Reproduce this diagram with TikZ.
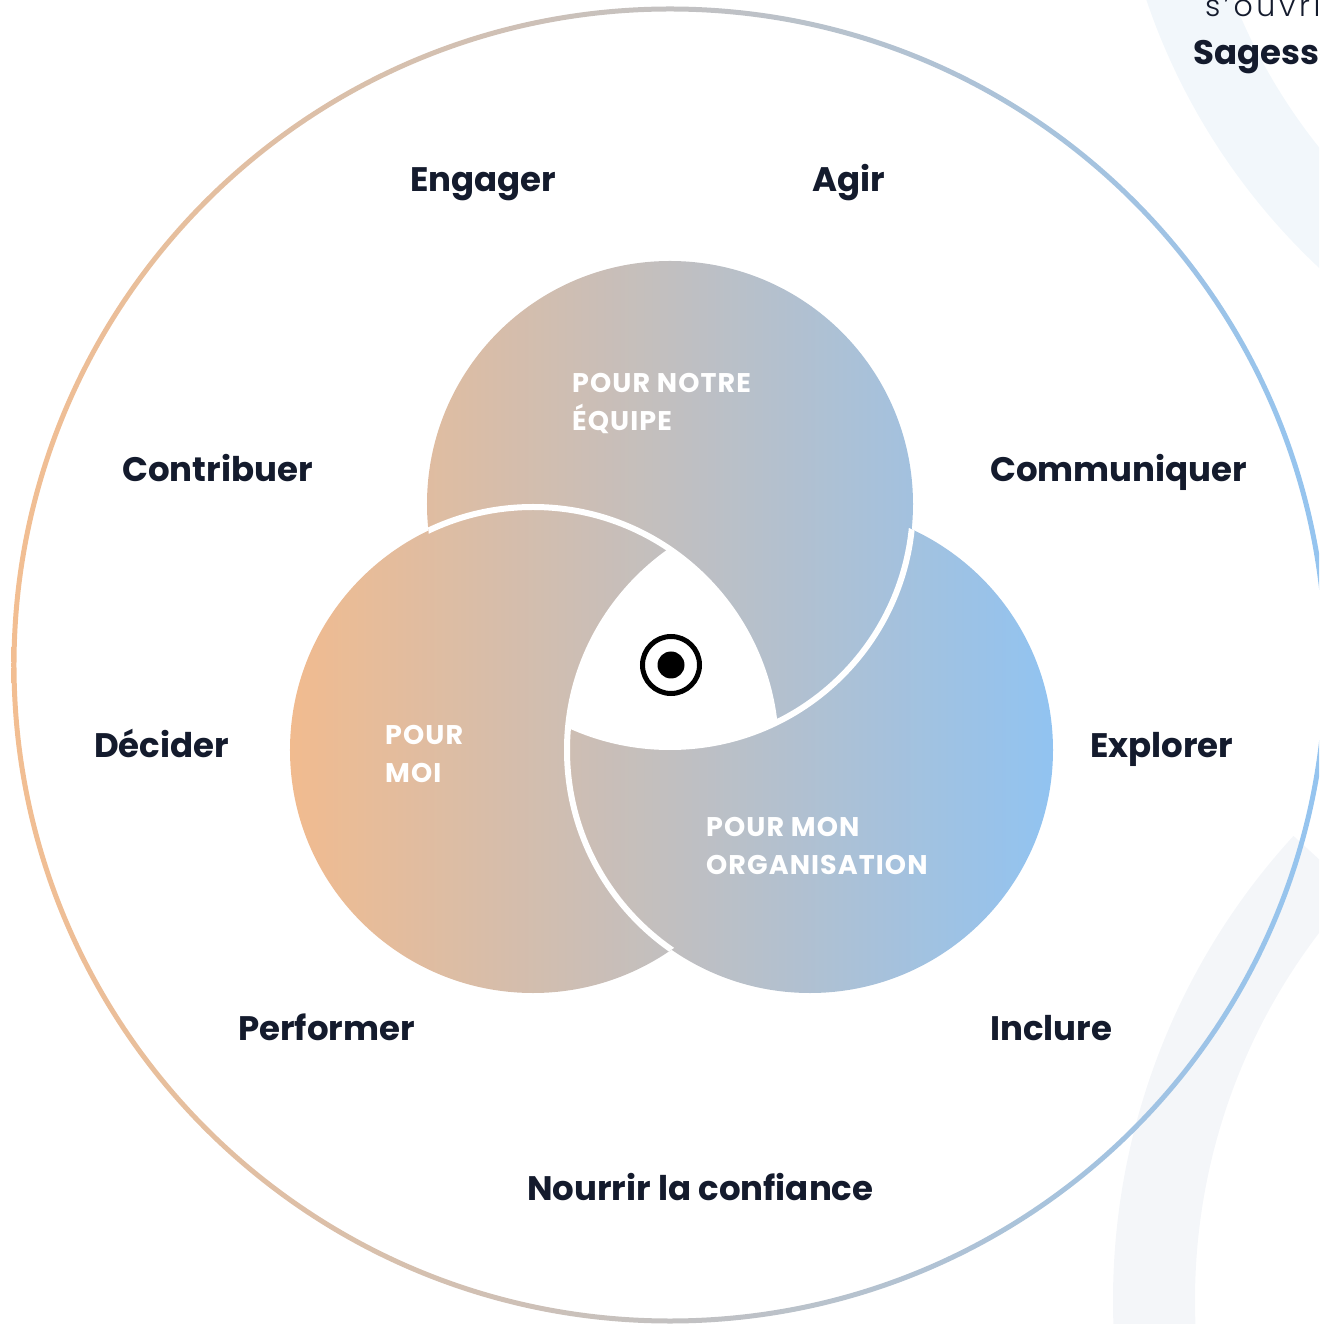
\documentclass[tikz,border=0pt]{standalone}
\usepackage{fontspec}
\setmainfont{Poppins}
\newfontfamily\thinfont[LetterSpace=12]{Poppins Light}
\newfontfamily\capsfont[LetterSpace=4]{Poppins}
\usetikzlibrary{calc}

\definecolor{peach}{RGB}{241,187,143}
\definecolor{sky}{RGB}{145,195,241}
\definecolor{ringpeach}{RGB}{242,190,146}
\definecolor{ringsky}{RGB}{148,196,240}
\definecolor{ink}{RGB}{20,27,45}
\definecolor{haloblue}{RGB}{242,247,251}
\definecolor{halogray}{RGB}{244,246,249}

\begin{document}
\begin{tikzpicture}[x=1pt,y=1pt,
  verb/.style={anchor=base west, inner sep=0pt, text=ink, font=\fontsize{34}{40}\selectfont\bfseries},
  zone/.style={anchor=north west, inner sep=0pt, text=white, align=left, font=\capsfont\fontsize{27}{38}\selectfont\bfseries},
  gap/.style={draw=white, line width=6pt}]
\useasboundingbox (-670,-659) rectangle (649,665);
\clip (-670,-659) rectangle (649,665);

% faint arcs behind
\fill[haloblue, even odd rule] (1097,875) circle (655) circle (573);
\coordinate (H) at (1130,-635);
\fill[halogray] ($(H)+(137.5:687)$) arc[start angle=137.5, end angle=200, radius=687]
  -- ($(H)+(200:605)$) arc[start angle=200, end angle=137.5, radius=605] -- cycle;

% outer ring
\shade[left color=ringpeach, right color=ringsky, even odd rule] (0,0) circle (658.5) circle (653.5);

% three spheres
\coordinate (T) at (0,161);
\coordinate (L) at (-137,-85);
\coordinate (R) at (140,-85);
\shade[left color=peach, right color=sky] (T) circle (243) (L) circle (243) (R) circle (243);

\begin{scope}
  \clip (T) circle (243);
  \draw[gap] (L) circle (243);
\end{scope}
\begin{scope}
  \clip (R) circle (243);
  \draw[gap] (T) circle (243);
\end{scope}
\begin{scope}
  \clip (L) circle (243);
  \draw[gap] (R) circle (243);
\end{scope}
\begin{scope}
  \clip (L) circle (243);
  \clip (T) circle (243);
  \fill[white] (R) circle (243);
\end{scope}

% target
\coordinate (E) at (1,0);
\draw[black, line width=5pt] (E) circle (28.5);
\fill[black] (E) circle (13.5);

\node[zone] (equipe) at (-98,292) {POUR NOTRE\\ÉQUIPE};
\node[zone] (moi) at (-285,-60) {POUR\\MOI};
\node[zone] (orga) at (36,-152) {POUR MON\\ORGANISATION};

\node[verb] (engager) at (-260,473) {Engager};
\node[verb] (agir) at (142,473) {Agir};
\node[verb] (contribuer) at (-548,183) {Contribuer};
\node[verb] (communiquer) at (320,183) {Communiquer};
\node[verb] (decider) at (-576,-93) {Décider};
\node[verb] (explorer) at (420,-93) {Explorer};
\node[verb] (performer) at (-432,-375) {Performer};
\node[verb] (inclure) at (320,-375) {Inclure};
\node[verb] (confiance) at (-143,-535) {Nourrir la confiance};

\node[anchor=base west, inner sep=0pt, text=ink, font=\thinfont\fontsize{30}{36}\selectfont] (ouvrir) at (535,648) {s’ouvrir};
\node[verb] (sagesse) at (523,600) {Sagesse};
\end{tikzpicture}
\end{document}
